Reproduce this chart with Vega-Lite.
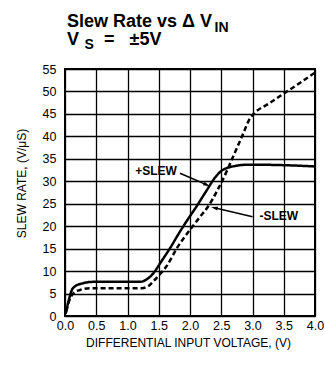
{
  "$schema": "https://vega.github.io/schema/vega-lite/v6.json",
  "width": 250,
  "height": 247,
  "autosize": {"type": "none"},
  "padding": {"left": 65, "top": 69, "right": 10, "bottom": 56},
  "background": "#ffffff",
  "title": {
    "text": ["Slew Rate vs Δ V", "V\u00a0\u00a0\u00a0\u00a0\u00a0=\u00a0\u00a0\u00a0±5V"],
    "anchor": "start",
    "frame": "group",
    "font": "Liberation Sans",
    "fontSize": 18,
    "fontWeight": "bold",
    "color": "#000",
    "lineHeight": 18,
    "dx": 2,
    "dy": 29,
    "offset": 0
  },
  "datasets": {
    "curves": [
      {"series": "+SLEW", "v": 0.01, "sr": 0.5},
      {"series": "+SLEW", "v": 0.06, "sr": 3.5},
      {"series": "+SLEW", "v": 0.11, "sr": 5.8},
      {"series": "+SLEW", "v": 0.16, "sr": 6.6},
      {"series": "+SLEW", "v": 0.29, "sr": 7.3},
      {"series": "+SLEW", "v": 0.45, "sr": 7.6},
      {"series": "+SLEW", "v": 1.2, "sr": 7.6},
      {"series": "+SLEW", "v": 1.3, "sr": 8.1},
      {"series": "+SLEW", "v": 1.38, "sr": 9.0},
      {"series": "+SLEW", "v": 1.45, "sr": 10.2},
      {"series": "+SLEW", "v": 1.52, "sr": 11.7},
      {"series": "+SLEW", "v": 1.68, "sr": 15.1},
      {"series": "+SLEW", "v": 1.84, "sr": 18.8},
      {"series": "+SLEW", "v": 1.95, "sr": 21.2},
      {"series": "+SLEW", "v": 2.1, "sr": 24.3},
      {"series": "+SLEW", "v": 2.25, "sr": 27.6},
      {"series": "+SLEW", "v": 2.4, "sr": 30.8},
      {"series": "+SLEW", "v": 2.5, "sr": 32.3},
      {"series": "+SLEW", "v": 2.6, "sr": 33.0},
      {"series": "+SLEW", "v": 2.72, "sr": 33.4},
      {"series": "+SLEW", "v": 2.93, "sr": 33.7},
      {"series": "+SLEW", "v": 3.47, "sr": 33.6},
      {"series": "+SLEW", "v": 4.0, "sr": 33.3},
      {"series": "-SLEW", "v": 0.02, "sr": 1.0},
      {"series": "-SLEW", "v": 0.07, "sr": 3.5},
      {"series": "-SLEW", "v": 0.13, "sr": 5.0},
      {"series": "-SLEW", "v": 0.24, "sr": 5.8},
      {"series": "-SLEW", "v": 0.4, "sr": 6.2},
      {"series": "-SLEW", "v": 1.23, "sr": 6.2},
      {"series": "-SLEW", "v": 1.33, "sr": 6.6},
      {"series": "-SLEW", "v": 1.42, "sr": 7.8},
      {"series": "-SLEW", "v": 1.5, "sr": 9.0},
      {"series": "-SLEW", "v": 1.63, "sr": 11.2},
      {"series": "-SLEW", "v": 1.79, "sr": 15.1},
      {"series": "-SLEW", "v": 2.0, "sr": 19.2},
      {"series": "-SLEW", "v": 2.15, "sr": 21.9},
      {"series": "-SLEW", "v": 2.3, "sr": 24.6},
      {"series": "-SLEW", "v": 2.45, "sr": 28.3},
      {"series": "-SLEW", "v": 2.6, "sr": 32.6},
      {"series": "-SLEW", "v": 2.69, "sr": 35.5},
      {"series": "-SLEW", "v": 2.83, "sr": 39.9},
      {"series": "-SLEW", "v": 2.96, "sr": 44.0},
      {"series": "-SLEW", "v": 3.04, "sr": 45.3},
      {"series": "-SLEW", "v": 3.25, "sr": 47.2},
      {"series": "-SLEW", "v": 3.52, "sr": 49.7},
      {"series": "-SLEW", "v": 3.79, "sr": 52.2},
      {"series": "-SLEW", "v": 4.0, "sr": 54.2}
    ],
    "arrows": [
      {"label": "+SLEW", "v": 1.84, "sr": 31.8, "v2": 2.27, "sr2": 29.2},
      {"label": "-SLEW", "v": 3.0, "sr": 22.1, "v2": 2.39, "sr2": 24.1}
    ],
    "heads": [
      {"label": "+SLEW", "v": 2.27, "sr": 29.2},
      {"label": "-SLEW", "v": 2.39, "sr": 24.1}
    ],
    "notes": [
      {"label": "+SLEW", "v": 1.456, "sr": 32.3},
      {"label": "-SLEW", "v": 3.42, "sr": 22.3}
    ]
  },
  "layer": [
    {
      "data": {"name": "curves"},
      "mark": {"type": "line", "interpolate": "monotone", "strokeWidth": 2.5, "color": "#000", "clip": true},
      "encoding": {
        "x": {
          "field": "v", "type": "quantitative",
          "scale": {"domain": [0, 4], "nice": false, "zero": false},
          "axis": {
            "orient": "bottom",
            "values": [0, 0.5, 1, 1.5, 2, 2.5, 3, 3.5, 4],
            "format": ".1f",
            "labelPadding": 3,
            "labelFlush": false,
            "labelOverlap": false,
            "title": "DIFFERENTIAL INPUT VOLTAGE, (V)",
            "titleX": 123,
            "titleY": 30,
            "titleAlign": "center",
            "titleBaseline": "alphabetic"
          }
        },
        "y": {
          "field": "sr", "type": "quantitative",
          "scale": {"domain": [0, 55], "nice": false},
          "axis": {
            "orient": "left",
            "values": [0, 5, 10, 15, 20, 25, 30, 35, 40, 45, 50, 55],
            "labelPadding": 9,
            "labelOverlap": false,
            "title": "SLEW RATE, (V/μS)",
            "titleAngle": -90,
            "titleX": -44,
            "titleY": 114,
            "titleAlign": "center",
            "titleBaseline": "middle"
          }
        },
        "detail": {"field": "series"},
        "strokeDash": {
          "field": "series", "type": "nominal",
          "scale": {"domain": ["+SLEW", "-SLEW"], "range": [[1, 0], [5, 3]]},
          "legend": null
        }
      }
    },
    {
      "data": {"name": "arrows"},
      "mark": {"type": "rule", "strokeWidth": 1.6, "color": "#000"},
      "encoding": {
        "x": {"field": "v", "type": "quantitative", "axis": null},
        "y": {"field": "sr", "type": "quantitative", "axis": null},
        "x2": {"field": "v2"},
        "y2": {"field": "sr2"}
      }
    },
    {
      "data": {"name": "heads"},
      "mark": {"type": "point", "filled": true, "opacity": 1, "color": "#000", "size": 45, "shape": "M0,-1L0.6,1L-0.6,1Z"},
      "encoding": {
        "x": {"field": "v", "type": "quantitative", "axis": null},
        "y": {"field": "sr", "type": "quantitative", "axis": null},
        "angle": {
          "field": "label", "type": "nominal",
          "scale": {"domain": ["+SLEW", "-SLEW"], "range": [114, 284]},
          "legend": null
        }
      }
    },
    {
      "data": {"name": "notes"},
      "mark": {"type": "text", "font": "Liberation Sans", "fontSize": 12, "fontWeight": "bold", "align": "center", "baseline": "middle", "color": "#000"},
      "encoding": {
        "x": {
          "field": "v", "type": "quantitative",
          "axis": {
            "orient": "top", "grid": false, "labels": false, "ticks": false, "domain": false,
            "title": "IN", "titleFontSize": 14, "titleFontWeight": "bold", "titleAngle": 0,
            "titleX": 149, "titleY": -38, "titleAlign": "left", "titleBaseline": "alphabetic"
          }
        },
        "y": {
          "field": "sr", "type": "quantitative",
          "axis": {
            "orient": "right", "grid": false, "labels": false, "ticks": false, "domain": false,
            "title": "S", "titleFontSize": 14, "titleFontWeight": "bold", "titleAngle": 0,
            "titleX": -231, "titleY": -21, "titleAlign": "left", "titleBaseline": "alphabetic"
          }
        },
        "text": {"field": "label"}
      }
    }
  ],
  "config": {
    "view": {"stroke": "#000", "strokeWidth": 2},
    "font": "Liberation Sans",
    "axis": {
      "domain": false,
      "ticks": false,
      "grid": true,
      "gridColor": "#000",
      "gridWidth": 1.3,
      "gridOpacity": 1,
      "labelColor": "#000",
      "labelFont": "Liberation Sans",
      "labelFontSize": 12.5,
      "titleColor": "#000",
      "titleFont": "Liberation Sans",
      "titleFontSize": 12,
      "titleFontWeight": "normal"
    }
  }
}
